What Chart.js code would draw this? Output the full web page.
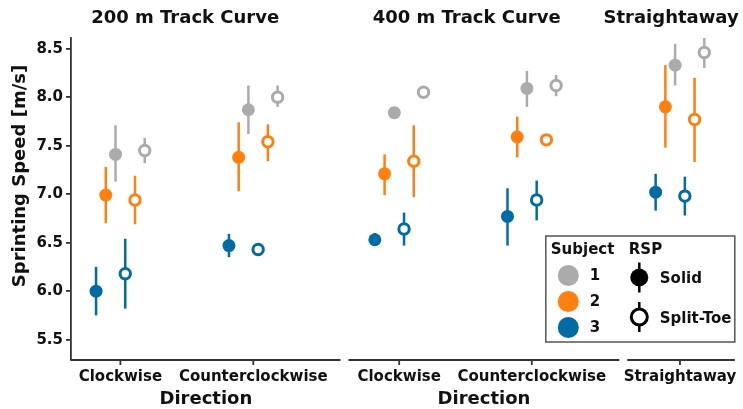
<!DOCTYPE html>
<html>
<head>
<meta charset="utf-8">
<script src="https://cdn.jsdelivr.net/npm/chart.js@4.4.1/dist/chart.umd.min.js"></script>
<style>
  html, body { margin: 0; padding: 0; background: #fff; }
  #wrap { width: 743px; height: 409px; }
</style>
</head>
<body>
<div id="wrap"><canvas id="chart" width="743" height="409"></canvas></div>
<script>
// facets and x categories (one entry per condition, left to right)
var panelTitles = ['200 m Track Curve', '400 m Track Curve', 'Straightaway'];
var directions = ['Clockwise', 'Counterclockwise', 'Clockwise', 'Counterclockwise', 'Straightaway'];
var subjects = ['1', '2', '3'];
var rspTypes = ['Solid', 'Split-Toe'];
var yTicks = [5.5, 6.0, 6.5, 7.0, 7.5, 8.0, 8.5];

// mean sprinting speed [m/s] with lower / upper error limits
var s1Solid   = [7.41, 7.87, 7.84, 8.09, 8.33];
var s1SolidLo = [7.13, 7.62, 7.81, 7.90, 8.12];
var s1SolidHi = [7.71, 8.12, 7.87, 8.27, 8.55];
var s1Split   = [7.45, 8.00, 8.05, 8.12, 8.46];
var s1SplitLo = [7.32, 7.90, 8.02, 8.01, 8.30];
var s1SplitHi = [7.58, 8.12, 8.08, 8.23, 8.61];

var s2Solid   = [6.99, 7.38, 7.21, 7.59, 7.90];
var s2SolidLo = [6.70, 7.03, 6.99, 7.38, 7.48];
var s2SolidHi = [7.28, 7.74, 7.41, 7.80, 8.33];
var s2Split   = [6.94, 7.54, 7.34, 7.56, 7.77];
var s2SplitLo = [6.69, 7.34, 6.97, 7.53, 7.33];
var s2SplitHi = [7.19, 7.72, 7.71, 7.59, 8.20];

var s3Solid   = [6.00, 6.47, 6.53, 6.77, 7.02];
var s3SolidLo = [5.75, 6.35, 6.50, 6.47, 6.83];
var s3SolidHi = [6.25, 6.59, 6.60, 7.06, 7.21];
var s3Split   = [6.18, 6.43, 6.64, 6.94, 6.98];
var s3SplitLo = [5.82, 6.40, 6.47, 6.73, 6.78];
var s3SplitHi = [6.54, 6.46, 6.81, 7.14, 7.18];

var subjectColors = ['#ABABAB', '#FF800E', '#006BA4'];
var axisColor = '#333333';
var textColor = '#111111';
var fontFamily = '"DejaVu Sans", sans-serif';

// x layout in category units (1 unit = distance between two directions)
var catCenters = [0.372, 1.373, 2.472, 3.471, 4.587];
var panelSpans = [[0, 2.03], [2.09, 4.13], [4.19, 5.0]];
var titleCenters = [0.86, 2.98, 4.52];
var dirLabelCenters = [1.016, 3.111];
var dodgeStep = 0.0733;

var means = [[s1Solid, s1Split], [s2Solid, s2Split], [s3Solid, s3Split]];
var lows = [[s1SolidLo, s1SplitLo], [s2SolidLo, s2SplitLo], [s3SolidLo, s3SplitLo]];
var highs = [[s1SolidHi, s1SplitHi], [s2SolidHi, s2SplitHi], [s3SolidHi, s3SplitHi]];

var datasets = [];
rspTypes.forEach(function(rsp, r) {
    subjects.forEach(function(subj, s) {
        // within each RSP the subjects run 3, 2, 1 from left to right
        var k = r * 3 + (2 - s);
        var off = (k - 2.5) * dodgeStep;
        var open = r === 1;
        datasets.push({
            label: 'Subject ' + subj + ' ' + rsp,
            data: means[s][r].map(function(v, i) { return {x: catCenters[i] + off, y: v}; }),
            lo: lows[s][r],
            hi: highs[s][r],
            barColor: subjectColors[s],
            pointRadius: open ? 5.2 : 6.5,
            pointHoverRadius: open ? 5.2 : 6.5,
            pointBorderWidth: open ? 3 : 0,
            pointBackgroundColor: open ? '#ffffff' : subjectColors[s],
            pointBorderColor: subjectColors[s],
            showLine: false
        });
    });
});

var errorBars = {
    id: 'errorBars',
    beforeDatasetsDraw: function(chart) {
        var ctx = chart.ctx, xs = chart.scales.x, ys = chart.scales.y;
        chart.data.datasets.forEach(function(ds) {
            ctx.save();
            ctx.strokeStyle = ds.barColor;
            ctx.lineWidth = 2.5;
            ds.data.forEach(function(p, i) {
                var px = xs.getPixelForValue(p.x);
                ctx.beginPath();
                ctx.moveTo(px, ys.getPixelForValue(ds.lo[i]));
                ctx.lineTo(px, ys.getPixelForValue(ds.hi[i]));
                ctx.stroke();
            });
            ctx.restore();
        });
    }
};

var facets = {
    id: 'facets',
    afterDraw: function(chart) {
        var ctx = chart.ctx, xs = chart.scales.x, area = chart.chartArea;
        ctx.save();
        // bottom axis line of each panel
        ctx.strokeStyle = axisColor;
        ctx.lineWidth = 1.8;
        panelSpans.forEach(function(sp) {
            ctx.beginPath();
            ctx.moveTo(xs.getPixelForValue(sp[0]), area.bottom);
            ctx.lineTo(xs.getPixelForValue(sp[1]), area.bottom);
            ctx.stroke();
        });
        catCenters.forEach(function(c) {
            var px = xs.getPixelForValue(c);
            ctx.beginPath();
            ctx.moveTo(px, area.bottom);
            ctx.lineTo(px, area.bottom + 5);
            ctx.stroke();
        });

        ctx.fillStyle = textColor;
        ctx.textAlign = 'center';
        ctx.textBaseline = 'middle';
        ctx.font = 'bold 15px ' + fontFamily;
        directions.forEach(function(d, i) {
            ctx.fillText(d, xs.getPixelForValue(catCenters[i]), area.bottom + 17);
        });
        ctx.font = 'bold 18px ' + fontFamily;
        dirLabelCenters.forEach(function(c) {
            ctx.fillText('Direction', xs.getPixelForValue(c), area.bottom + 39);
        });
        panelTitles.forEach(function(t, i) {
            ctx.fillText(t, xs.getPixelForValue(titleCenters[i]), 18);
        });

        // y axis title
        ctx.save();
        ctx.translate(20, 176);
        ctx.rotate(-Math.PI / 2);
        ctx.fillText('Sprinting Speed [m/s]', 0, 0);
        ctx.restore();

        // legend
        var bx = area.right - 189, by = area.bottom - 124;
        ctx.strokeStyle = '#555555';
        ctx.lineWidth = 1.5;
        ctx.strokeRect(bx, by, 189, 106);
        ctx.textAlign = 'left';
        ctx.font = 'bold 15px ' + fontFamily;
        ctx.fillText('Subject', bx + 5, by + 14);
        ctx.fillText('RSP', bx + 83, by + 14);
        subjects.forEach(function(s, i) {
            var cy = by + 39.5 + i * 26;
            ctx.fillStyle = subjectColors[i];
            ctx.beginPath();
            ctx.arc(bx + 22.5, cy, 10.5, 0, Math.PI * 2);
            ctx.fill();
            ctx.fillStyle = textColor;
            ctx.fillText(s, bx + 44, cy + 1);
        });
        rspTypes.forEach(function(rsp, r) {
            var cx = bx + 93.5, cy = by + 41.5 + r * 39.5;
            ctx.strokeStyle = '#000000';
            ctx.lineWidth = 2.5;
            ctx.beginPath();
            ctx.moveTo(cx, cy - 15);
            ctx.lineTo(cx, cy + 15);
            ctx.stroke();
            ctx.beginPath();
            if (r === 0) {
                ctx.fillStyle = '#000000';
                ctx.arc(cx, cy, 9, 0, Math.PI * 2);
                ctx.fill();
            } else {
                ctx.fillStyle = '#ffffff';
                ctx.lineWidth = 3;
                ctx.arc(cx, cy, 8, 0, Math.PI * 2);
                ctx.fill();
                ctx.stroke();
            }
            ctx.fillStyle = textColor;
            ctx.fillText(rsp, bx + 114, cy + 2);
        });
        ctx.restore();
    }
};

new Chart('chart', {
    type: 'scatter',
    data: { datasets: datasets },
    options: {
        responsive: false,
        animation: false,
        devicePixelRatio: 1,
        layout: { padding: { left: 0, top: 38, right: 5, bottom: 49 } },
        plugins: { legend: { display: false }, tooltip: { enabled: false } },
        scales: {
            x: { type: 'linear', min: 0, max: 5, display: false },
            y: {
                min: 5.29,
                max: 8.61,
                afterBuildTicks: function(s) {
                    s.ticks = yTicks.map(function(v) { return {value: v}; });
                },
                afterFit: function(s) { s.width = 71; },
                border: { display: true, color: axisColor, width: 1.8 },
                grid: { drawOnChartArea: false, drawTicks: true, tickLength: 5, color: axisColor, lineWidth: 1.8 },
                ticks: {
                    color: textColor,
                    padding: 3,
                    font: { family: fontFamily, size: 15, weight: 'bold' },
                    callback: function(v) { return Number(v).toFixed(1); }
                }
            }
        }
    },
    plugins: [errorBars, facets]
});
</script>
</body>
</html>
